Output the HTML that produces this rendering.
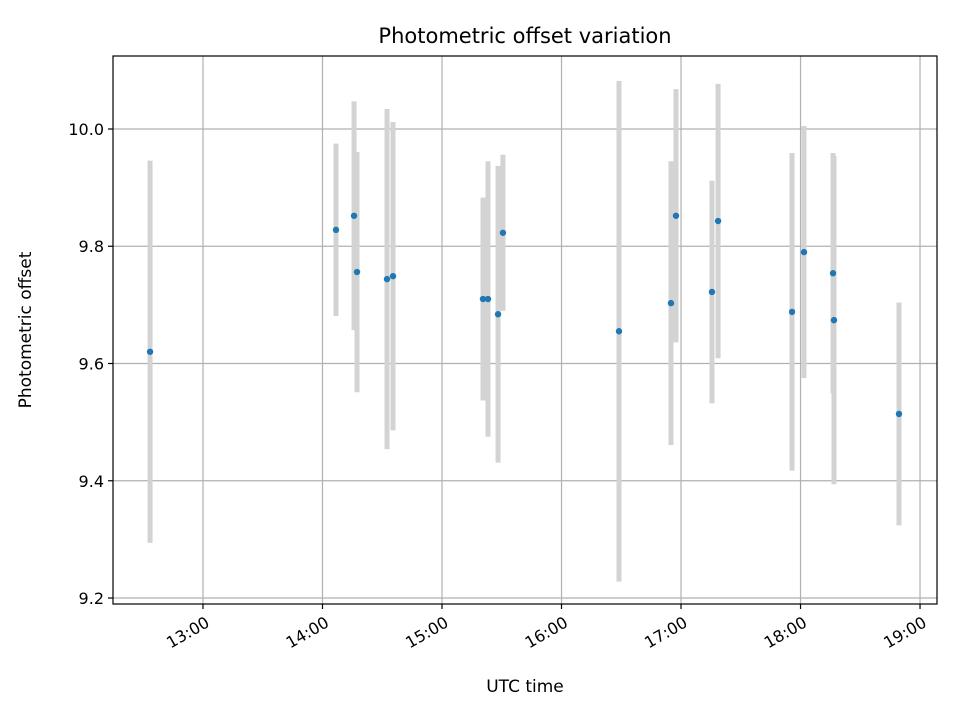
<!DOCTYPE html>
<html><head><meta charset="utf-8"><style>
body{margin:0;background:#fff;}
svg{display:block;font-family:"DejaVu Sans","Liberation Sans",sans-serif;}
</style></head><body>
<svg id="chart" width="960" height="720" viewBox="0 0 960 720">
<rect width="960" height="720" fill="#fff"/>
<g id="grid"></g>
<g id="errs"></g>
<g id="pts"></g>
<rect x="113" y="56" width="824" height="548" fill="none" stroke="#000" stroke-width="1.2"/>
<g id="ticks"></g>
<text x="525" y="43" text-anchor="middle" font-size="21">Photometric offset variation</text>
<text x="525" y="692" text-anchor="middle" font-size="17">UTC time</text>
<text transform="translate(31,330) rotate(-90)" text-anchor="middle" font-size="17">Photometric offset</text>
</svg>
<script>
const times=[12.557,14.113,14.264,14.289,14.540,14.590,15.343,15.385,15.469,15.510,16.481,16.916,16.958,17.259,17.310,17.929,18.029,18.272,18.280,18.824];
const values=[9.620,9.828,9.852,9.756,9.744,9.749,9.710,9.710,9.684,9.823,9.655,9.703,9.852,9.722,9.843,9.688,9.790,9.754,9.674,9.514];
const errors=[0.326,0.147,0.195,0.205,0.290,0.263,0.173,0.235,0.253,0.133,0.427,0.242,0.216,0.190,0.234,0.271,0.215,0.205,0.280,0.190];
const xTicks=[13,14,15,16,17,18,19];
const xTickLabels=["13:00","14:00","15:00","16:00","17:00","18:00","19:00"];
const yTicks=[9.2,9.4,9.6,9.8,10.0];
const yTickLabels=["9.2","9.4","9.6","9.8","10.0"];
const X0=113,X1=937,Y0=604,Y1=56,xmin=12.247,xmax=19.142,ymin=9.1898,ymax=10.1245;
const xs=v=>X0+(v-xmin)/(xmax-xmin)*(X1-X0);
const ys=v=>Y0-(v-ymin)/(ymax-ymin)*(Y0-Y1);
const NS="http://www.w3.org/2000/svg";
function mk(tag,parent,attrs){const e=document.createElementNS(NS,tag);for(const k in attrs)e.setAttribute(k,attrs[k]);document.getElementById(parent).appendChild(e);return e;}
xTicks.forEach((t,i)=>{
  const x=xs(t);
  const g=mk('line','grid',{x1:x,x2:x,y1:Y1,y2:Y0,stroke:'#b0b0b0','stroke-width':1.2});
  
  
  const tk=mk('line','ticks',{x1:x,x2:x,y1:Y0,y2:Y0+5,stroke:'#000','stroke-width':1.2});
  
  
  const tx=mk('text','ticks',{transform:`translate(${x+2},${Y0+12}) rotate(-30)`,'text-anchor':'end','font-size':16,dy:'0.7em'});
  tx.textContent=xTickLabels[i];
  
  
});
yTicks.forEach((t,i)=>{
  const y=ys(t);
  const g=mk('line','grid',{x1:X0,x2:X1,y1:y,y2:y,stroke:'#b0b0b0','stroke-width':1.2});
  
  
  const tk=mk('line','ticks',{x1:X0-5,x2:X0,y1:y,y2:y,stroke:'#000','stroke-width':1.2});
  
  
  const tx=mk('text','ticks',{x:X0-9,y:y+6,'text-anchor':'end','font-size':16});
  tx.textContent=yTickLabels[i];
  
  
});
times.forEach((t,i)=>{
  const x=xs(t);
  const e=mk('line','errs',{x1:x,x2:x,y1:ys(values[i]+errors[i]),y2:ys(values[i]-errors[i]),stroke:'#d3d3d3','stroke-width':5});
  
  
  const c=mk('circle','pts',{cx:x,cy:ys(values[i]),r:3.2,fill:'#1f77b4'});
  
  
});
</script>
</body></html>
